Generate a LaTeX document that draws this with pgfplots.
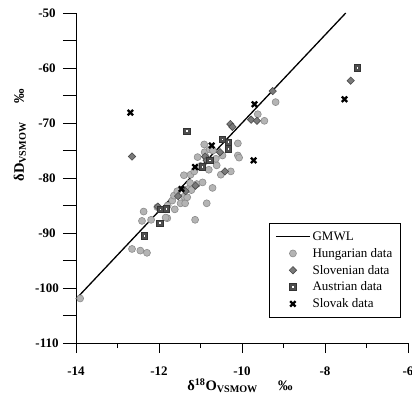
\documentclass[border=0pt]{standalone}
\usepackage{fontspec}
\setmainfont{Liberation Serif}
\usepackage{pgfplots}
\usepackage{pgfplotstable}
\pgfplotsset{compat=1.18}
\definecolor{hunfill}{HTML}{B4B4B4}
\definecolor{hunedge}{HTML}{8C8C8C}
\definecolor{slofill}{HTML}{7A7A7A}
\definecolor{sloedge}{HTML}{4A4A4A}
\definecolor{ausfill}{HTML}{4E4E4E}
\definecolor{ausedge}{HTML}{333333}
\pgfdeclareplotmark{sqdot}{%
  \pgfpathrectangle{\pgfqpoint{-\pgfplotmarksize}{-\pgfplotmarksize}}{\pgfqpoint{2\pgfplotmarksize}{2\pgfplotmarksize}}%
  \pgfsetfillcolor{ausfill}\pgfsetstrokecolor{ausedge}\pgfusepathqfillstroke
  \pgfpathrectangle{\pgfqpoint{-0.8pt}{-0.8pt}}{\pgfqpoint{1.6pt}{1.6pt}}%
  \pgfsetfillcolor{white}\pgfusepathqfill
}
\pgfplotstableread{
x y
-13.90 -101.9
-12.65 -92.9
-12.45 -93.2
-12.29 -93.6
-12.37 -86.1
-12.41 -87.8
-12.19 -87.6
-12.04 -85.3
-11.80 -87.3
-11.84 -87.2
-11.62 -85.7
-11.79 -85.0
-11.68 -84.1
-11.64 -83.2
-11.56 -82.4
-11.48 -84.6
-11.37 -84.6
-11.40 -83.4
-11.32 -83.5
-11.30 -82.0
-11.22 -82.2
-11.40 -79.5
-11.24 -79.4
-11.25 -80.9
-11.09 -81.1
-10.95 -80.8
-11.15 -78.8
-11.13 -87.6
-10.85 -84.6
-10.71 -81.8
-10.61 -77.7
-10.51 -79.4
-10.27 -78.8
-10.80 -78.5
-11.00 -77.8
-11.07 -76.2
-10.87 -76.2
-10.91 -73.9
-10.90 -75.3
-10.78 -74.8
-10.70 -75.0
-10.63 -76.5
-10.47 -75.9
-10.10 -73.7
-10.10 -75.9
-10.07 -76.3
-9.62 -68.4
-9.46 -69.6
-9.19 -66.2
}\hun
\pgfplotstableread{
x y
-12.65 -76.1
-10.28 -70.2
-10.23 -70.7
-10.53 -75.3
-10.41 -78.8
-10.89 -76.1
-10.85 -76.8
-9.78 -69.4
-9.64 -69.6
-9.26 -64.2
-7.38 -62.3
-11.12 -81.4
-11.36 -82.4
-11.54 -83.3
-12.03 -85.2
}\slo
\pgfplotstableread{
x y
-11.33 -71.5
-10.47 -73.0
-10.33 -73.5
-10.33 -74.7
-10.77 -76.8
-10.95 -78.0
-11.96 -85.7
-11.82 -85.6
-11.98 -88.2
-12.35 -90.5
-7.22 -60.0
}\aus
\pgfplotstableread{
x y
-12.69 -68.1
-9.70 -66.6
-10.73 -74.1
-11.13 -78.0
-11.46 -82.0
-9.72 -76.8
-7.53 -65.7
}\slk
\pgfplotsset{
  markleg/.style={legend image code/.code={\draw[mark repeat=2,mark phase=2,##1] plot coordinates {(0pt,0pt) (17pt,0pt) (34pt,0pt)};}},
  lineleg/.style={legend image code/.code={\draw[##1] (0pt,0pt) -- (34pt,0pt);}},
}
\begin{document}
\begin{tikzpicture}
\begin{axis}[
  scale only axis, width=332pt, height=330pt,
  xmin=-14, xmax=-6, ymin=-110, ymax=-50,
  axis x line*=bottom, axis y line*=left,
  axis line style={line width=0.9pt, -},
  xtick=\empty,
  ytick={-110,-105,...,-50},
  yticklabels={-110,,-100,,-90,,-80,,-70,,-60,,-50},
  tick align=outside,
  major tick length=13pt,
  tick style={line width=0.9pt, black},
  /pgf/number format/assume math mode=true,
  yticklabel style={font=\fontsize{13}{15}\selectfont\bfseries, anchor=center, xshift=-16pt},
  ylabel={δD\textsubscript{VSMOW}\hspace{1.3em}‰},
  ylabel style={font=\fontsize{14.5}{16}\selectfont\bfseries, at={(rel axis cs:-0.169,0.63)}, anchor=center},
  xlabel={δ\textsuperscript{18}O\textsubscript{VSMOW}\hspace{1.4em}‰},
  xlabel style={font=\fontsize{14.5}{16}\selectfont\bfseries, at={(rel axis cs:0.494,-0.130)}, anchor=center},
  legend style={at={(rel axis cs:0.581,0.364)}, anchor=north west, draw=black, line width=0.8pt,
    font=\fontsize{13}{15}\selectfont, inner xsep=6pt, inner ysep=6.5pt, row sep=2.3pt,
    cells={anchor=west}},
  clip=false,
]
\addplot[black, line width=1.3pt, lineleg] coordinates {(-14,-102) (-7.5,-50)};
\addlegendentry{GMWL}
\addplot[only marks, mark=*, mark size=3.5pt, mark options={fill=hunfill, draw=hunedge, line width=0.6pt}, markleg] table {\hun};
\addlegendentry{Hungarian data}
\addplot[only marks, mark=square*, mark size=2.6pt, mark options={rotate=45, fill=slofill, draw=sloedge, line width=0.6pt}, markleg] table {\slo};
\addlegendentry{Slovenian data}
\addplot[only marks, mark=sqdot, mark size=3.2pt, mark options={line width=0.8pt}, markleg] table {\aus};
\addlegendentry{Austrian data}
\addplot[only marks, mark=x, mark size=3.8pt, mark options={draw=black, line width=2.3pt}, markleg] table {\slk};
\addlegendentry{Slovak data}
\end{axis}
\begin{axis}[
  scale only axis, width=332pt, height=330pt,
  xmin=-14, xmax=-6, ymin=-110, ymax=-50,
  axis x line*=bottom, hide y axis,
  axis line style={line width=0.9pt, -},
  xtick={-14,-12,...,-6},
  minor xtick={-13,-11,-9,-7},
  tick align=outside,
  major tick length=10pt, minor tick length=5pt,
  tick style={line width=0.9pt, black},
  /pgf/number format/assume math mode=true,
  xticklabel style={font=\fontsize{13}{15}\selectfont\bfseries, anchor=center, yshift=-18pt},
]
\end{axis}
\pgfresetboundingbox
\useasboundingbox (-76pt,-54pt) rectangle (336pt,343pt);
\end{tikzpicture}
\end{document}
